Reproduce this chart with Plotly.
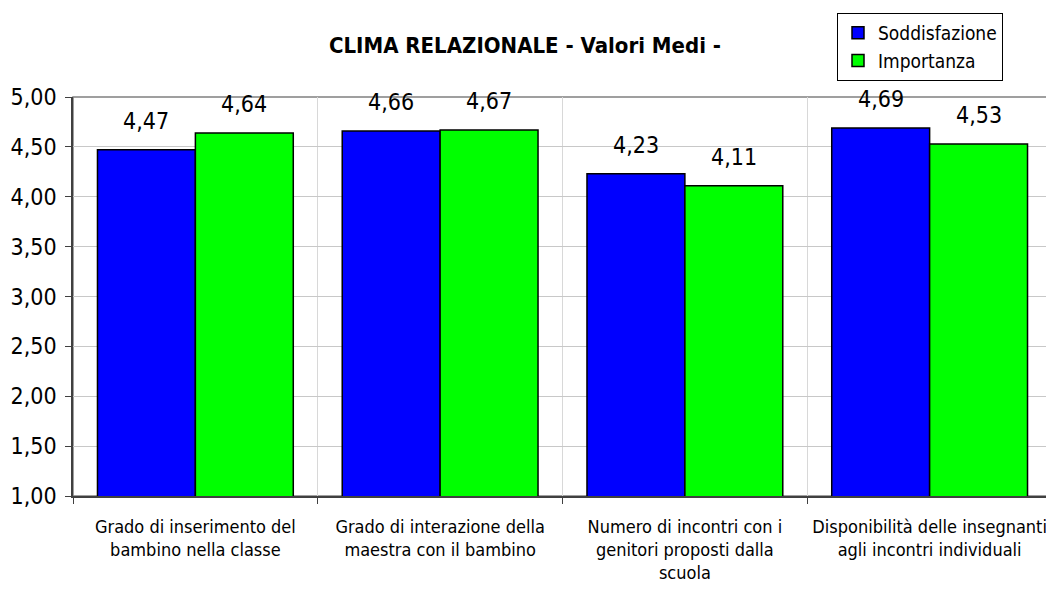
import plotly.graph_objects as go

categories = [
    "Grado di inserimento del<br>bambino nella classe",
    "Grado di interazione della<br>maestra con il bambino",
    "Numero di incontri con i<br>genitori proposti dalla<br>scuola",
    "Disponibilità delle insegnanti<br>agli incontri individuali",
]
soddisfazione = [4.47, 4.66, 4.23, 4.69]
importanza = [4.64, 4.67, 4.11, 4.53]

font_family = "DejaVu Sans Condensed, DejaVu Sans, sans-serif"
# the page body adds an 8px offset, so the figure is 8px smaller than the window
W, H = 1046, 586
plot_w = W - 65 - 2
bar_shift = 0.2 * plot_w / len(categories)  # half of a bar group offset in px

fig = go.Figure()
fig.add_trace(go.Bar(
    name="Soddisfazione", x=categories, y=soddisfazione,
    marker=dict(color="#0000FF", line=dict(color="black", width=1.5)),
))
fig.add_trace(go.Bar(
    name="Importanza", x=categories, y=importanza,
    marker=dict(color="#00FF00", line=dict(color="black", width=1.5)),
))

# value labels above each bar
annotations = []
for values, sign in ((soddisfazione, -1), (importanza, 1)):
    for cat, v in zip(categories, values):
        annotations.append(dict(
            x=cat, y=v, xref="x", yref="y", text=f"{v:.2f}".replace(".", ","),
            showarrow=False, yanchor="bottom", xanchor="center",
            xshift=sign * bar_shift, yshift=14,
            font=dict(size=23, color="black"),
        ))

fig.update_layout(
    width=W, height=H,
    margin=dict(l=65, r=2, t=89, b=98, autoexpand=False),
    plot_bgcolor="white", paper_bgcolor="white",
    separators=",.",
    font=dict(family=font_family, color="black"),
    barmode="group", bargap=0.2, bargroupgap=0,
    title=dict(text="<b>CLIMA RELAZIONALE - Valori Medi -</b>", x=517 / W, xanchor="center",
               y=1 - 37 / H, yanchor="middle", font=dict(size=22)),
    legend=dict(x=(829 - 65) / plot_w, y=(488 - 5) / 399, xanchor="left", yanchor="top",
                bordercolor="black", borderwidth=1, font=dict(size=19),
                tracegroupgap=0, itemwidth=30),
    showlegend=True,
    annotations=annotations,
    shapes=[dict(type="rect", xref="paper", yref="paper", x0=0, x1=1, y0=0, y1=1,
                 line=dict(color="#808080", width=1.5), layer="below")],
)
fig.update_yaxes(range=[1, 5], dtick=0.5, tickformat=".2f", showgrid=True,
                 gridcolor="#C8C8C8", gridwidth=1, showline=True, linecolor="#404040",
                 linewidth=1.5, ticks="outside", ticklen=6, tickcolor="#404040",
                 tickfont=dict(size=23), zeroline=False, automargin=False,
                 ticklabelstandoff=4)
fig.update_xaxes(tickson="boundaries", showgrid=True, gridcolor="#D8D8D8", gridwidth=1,
                 showline=True, linecolor="#404040", linewidth=2, ticks="outside",
                 ticklen=6, tickcolor="#404040", tickfont=dict(size=18), tickangle=0,
                 automargin=False, ticklabelstandoff=13)

fig.write_html("out.html")
